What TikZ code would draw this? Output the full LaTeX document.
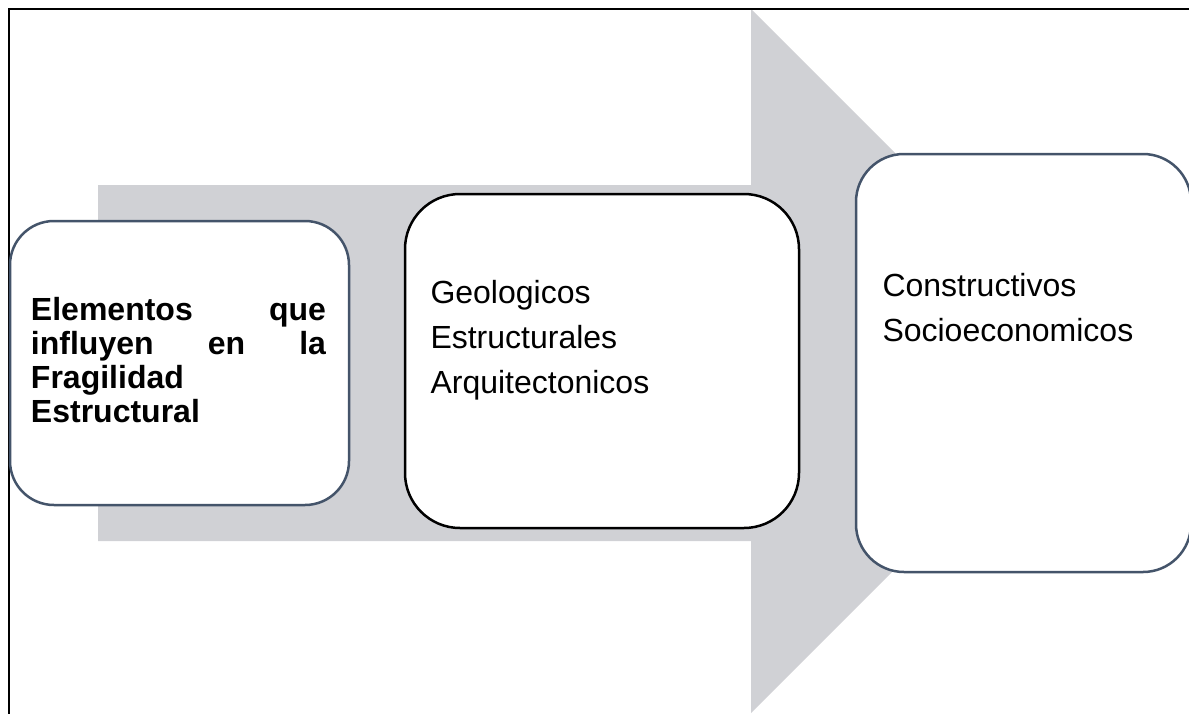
\documentclass[tikz,border=0pt]{standalone}
\usepackage{fontspec}
\setmainfont{Liberation Sans}
\definecolor{slate}{RGB}{68,84,106}
\definecolor{arrowgray}{RGB}{208,209,213}
\begin{document}
\begin{tikzpicture}[x=0.5pt,y=-0.5pt,
  stage/.style={rectangle, fill=white, inner sep=0pt, outer sep=0pt, line width=1.25pt},
  label/.style={inner sep=0pt, outer sep=0pt, anchor=base west,
    font=\fontsize{16pt}{19pt}\selectfont},
  labelb/.style={label, font=\fontsize{16pt}{19pt}\selectfont\bfseries},
]
\useasboundingbox (0,0) rectangle (1189,713);
\clip (0,0) rectangle (1189,713);

% broad background arrow
\fill[arrowgray] (98,185) -- (751,185) -- (751,9) -- (1103,361)
  -- (751,713) -- (751,541) -- (98,541) -- cycle;

% outer frame (left and top edges)
\draw[line width=1pt] (9,720) |- (1200,8.5);

% the three stages
\node[stage, draw=slate, rounded corners=22pt,
  minimum width=169.5pt, minimum height=142pt] (b1) at (179.5,363) {};
\node[stage, draw=black, rounded corners=27.5pt,
  minimum width=197pt, minimum height=167pt] (b2) at (602,361) {};
\node[stage, draw=slate, rounded corners=24pt,
  minimum width=167.5pt, minimum height=209pt] (b3) at (1023.5,363) {};

% stage 1 text, justified
\node[labelb] (e1) at (31,320) {\hbox to 147.5pt{Elementos\hfill que}};
\node[labelb] (e2) at (31,354.5) {\hbox to 147.5pt{influyen\hfill en\hfill la}};
\node[labelb] (e3) at (31,388.5) {Fragilidad};
\node[labelb] (e4) at (31,422.5) {Estructural};

% stage 2 text
\node[label] (g1) at (430.5,303) {Geologicos};
\node[label] (g2) at (430.5,348) {Estructurales};
\node[label] (g3) at (430.5,393) {Arquitectonicos};

% stage 3 text
\node[label] (c1) at (882.5,296) {Constructivos};
\node[label] (c2) at (882.5,341) {Socioeconomicos};
\end{tikzpicture}
\end{document}
